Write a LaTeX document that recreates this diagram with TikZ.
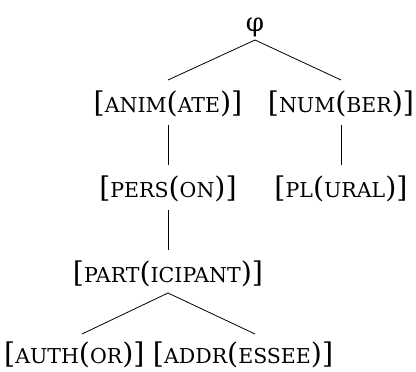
\documentclass[tikz,border=0pt]{standalone}
\usepackage{fontspec}
\setmainfont{DejaVu Serif}
\newcommand\fsc[1]{{\fontsize{20.5}{21}\selectfont #1}}
\begin{document}
\begin{tikzpicture}[x=1pt,y=-1pt,
  feat/.style={anchor=base,inner sep=0pt,font=\fontsize{28.5}{29}\selectfont},
  edge/.style={draw=black,line width=0.8pt}]
\useasboundingbox (0,0) rectangle (416,372);
% nodes
\node[anchor=base,inner sep=0pt,font=\fontsize{26}{27}\selectfont] (phi) at (255,31) {φ};
\node[feat] (anim) at (168,112) {[\fsc{ANIM}(\fsc{ATE})]};
\node[feat] (num)  at (341,112) {[\fsc{NUM}(\fsc{BER})]};
\node[feat] (pers) at (168,197) {[\fsc{PERS}(\fsc{ON})]};
\node[feat] (pl)   at (341,197) {[\fsc{PL}(\fsc{URAL})]};
\node[feat] (part) at (168,282) {[\fsc{PART}(\fsc{ICIPANT})]};
\node[feat,anchor=base west] (auth) at (4,363)  {[\fsc{AUTH}(\fsc{OR})]};
\node[feat,anchor=base west] (addr) at ([xshift=8pt]auth.base east) {[\fsc{ADDR}(\fsc{ESSEE})]};
% connector ends
\coordinate (phiB) at (255,40);
\coordinate (animT) at (168,80);
\coordinate (numT) at (341,80);
\coordinate (animB) at (168,125);
\coordinate (persT) at (168,165);
\coordinate (numB) at (341,125);
\coordinate (plT) at (341,165);
\coordinate (persB) at (168,210);
\coordinate (partT) at (168,250);
\coordinate (partB) at (168,293);
\coordinate (authT) at (82,334);
\coordinate (addrT) at (255,334);
\draw[edge] (phiB) -- (animT);
\draw[edge] (phiB) -- (numT);
\draw[edge] (animB) -- (persT);
\draw[edge] (numB) -- (plT);
\draw[edge] (persB) -- (partT);
\draw[edge] (partB) -- (authT);
\draw[edge] (partB) -- (addrT);
\end{tikzpicture}
\end{document}
